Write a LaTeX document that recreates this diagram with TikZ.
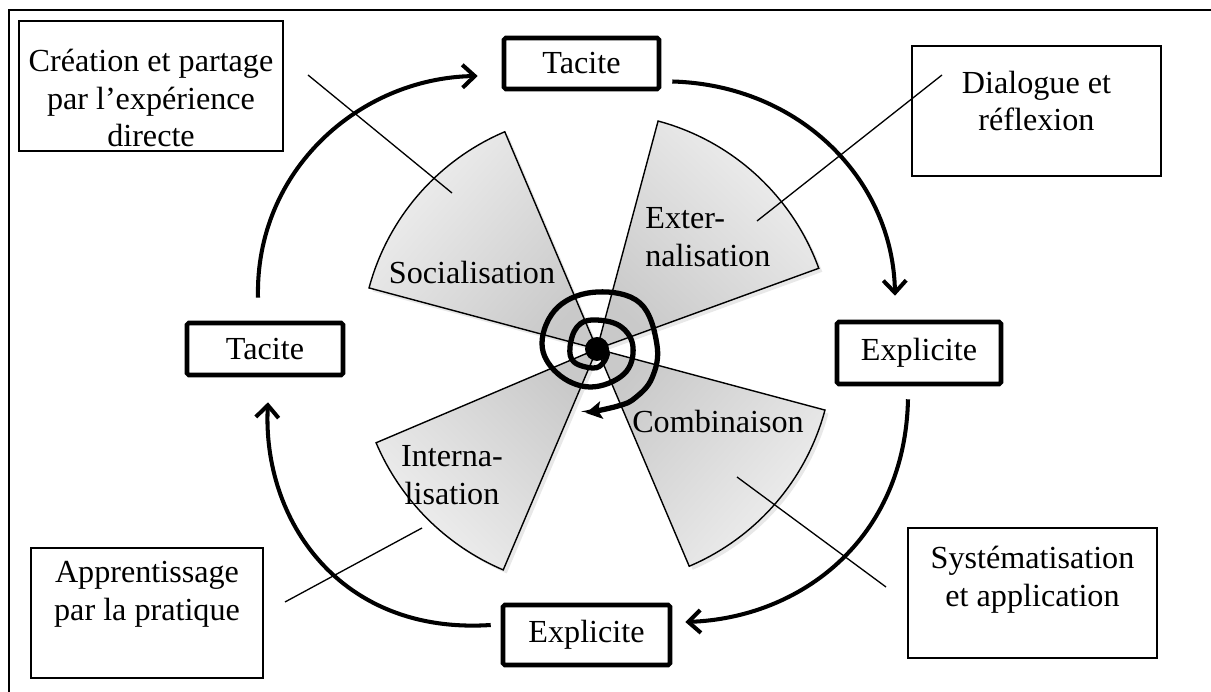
\documentclass[tikz,border=0pt]{standalone}
\usepackage{fontspec}
\setmainfont{Liberation Serif}
\usetikzlibrary{arrows.meta,shadows,calc}
\def\PX{0.02cm}
\begin{document}
\begin{tikzpicture}[x=0.02cm, y=-0.02cm,
  every node/.style={font=\fontsize{18.3}{21.5}\selectfont},
  frame/.style={line width=1.1pt},
  thinbox/.style={draw, line width=0.85pt, fill=white},
  thickbox/.style={draw, line width=2.6pt, rounded corners=1pt, fill=white, inner sep=0pt},
  txt/.style={align=center, inner sep=0pt},
  sector/.style={draw, line width=0.8pt, top color=gray!42, bottom color=gray!12,
    drop shadow={opacity=0.18, shadow xshift=2pt, shadow yshift=-2pt}},
  cycle arrow/.style={line width=2.3pt, -{Straight Barb[length=7pt, width=13pt]}},
  pointer/.style={line width=0.75pt},
  spiral/.style={line width=3pt, line cap=round, -{Stealth[length=9pt, width=10pt, inset=2pt]}}]
\useasboundingbox (0,0) rectangle (1211,692);
% frame
\draw[frame] (1215,10) -- (9,10) -- (9,696);

% sectors
\coordinate (C) at (597,349);
\path[sector, shading angle=229] (C) -- ($(C)+(-113:236)$) arc[start angle=-113, end angle=-165, radius=236] -- cycle;
\path[sector, shading angle=137] (C) -- ($(C)+(-20:236)$) arc[start angle=-20, end angle=-75, radius=236] -- cycle;
\path[sector, shading angle=49] (C) -- ($(C)+(15:236)$) arc[start angle=15, end angle=67, radius=236] -- cycle;
\path[sector, shading angle=-45] (C) -- ($(C)+(113:240)$) arc[start angle=113, end angle=157, radius=240] -- cycle;

% sector labels
\node[txt] (soc) at (472,273) {Socialisation};
\node[txt, align=left, anchor=west] (ext) at (645,237) {Exter-\\nalisation};
\node[txt] (com) at (718,422) {Combinaison};
\node[txt] (int) at (452,475) {Interna-\\lisation};

% boxes
\node[thinbox, minimum width=264*\PX, minimum height=130*\PX] (cre) at (151,86) {};
\node[txt] at (151,98) {Création et partage\\par l’expérience\\directe};
\node[thinbox, minimum width=249*\PX, minimum height=130*\PX] (dia) at (1036.5,111) {};
\node[txt] at (1036.5,101) {Dialogue et\\réflexion};
\node[thinbox, minimum width=249*\PX, minimum height=130*\PX] (sys) at (1032.5,593) {};
\node[txt] at (1032.5,580) {Systématisation\\et application};
\node[thinbox, minimum width=232*\PX, minimum height=130*\PX] (app) at (147,613) {};
\node[txt] at (147,594) {Apprentissage\\par la pratique};

% thick boxes
\node[thickbox, minimum width=155*\PX, minimum height=51*\PX] (tacT) at (581.5,63.5) {Tacite};
\node[thickbox, minimum width=156*\PX, minimum height=52*\PX] (tacL) at (265,349) {Tacite};
\node[thickbox, minimum width=164*\PX, minimum height=62*\PX] (expR) at (919,353) {Explicite};
\node[thickbox, minimum width=167*\PX, minimum height=60*\PX] (expB) at (586.5,635) {Explicite};

% cycle arrows
\draw[cycle arrow] ($(tacL.north)+(-7,-23)$) .. controls (255,170) and (360,78) .. ($(tacT.west)+(-24,12.5)$);
\draw[cycle arrow] ($(tacT.east)+(11,18)$) .. controls (800,85) and (893,180) .. ($(expR.north)+(-24,-24)$);
\draw[cycle arrow] ($(expR.south)+(-11,13)$) .. controls (905,540) and (800,618) .. ($(expB.east)+(13,-13)$);
\draw[cycle arrow] ($(expB.west)+(-10,-10)$) .. controls (340,635) and (262,520) .. ($(tacL.south)+(3,25)$);

% pointers
\coordinate (p1a) at (308,75);  \coordinate (p1b) at (452,193);
\coordinate (p2a) at (942,75);  \coordinate (p2b) at (757,221);
\coordinate (p3a) at (886,587); \coordinate (p3b) at (737,477);
\coordinate (p4a) at (285,602); \coordinate (p4b) at (422,528);
\draw[pointer] (p1a) -- (p1b);
\draw[pointer] (p2a) -- (p2b);
\draw[pointer] (p3a) -- (p3b);
\draw[pointer] (p4a) -- (p4b);

% spiral
\node[circle, fill=black, inner sep=0pt, minimum size=24*\PX] (dot) at (C) {};
\draw[spiral] plot[smooth, tension=0.65] coordinates {
 (dot.center) (607,352) (603,363) (593,368) (574,362) (570,347) (577,327) (593,320) (620,326) (633,347)
 (624,374) (590,387) (557,373) (542,343) (558,307) (597,292) (640,303) (657,345) (652,378) (635,398) (618,406) (586,413)};
\end{tikzpicture}
\end{document}
